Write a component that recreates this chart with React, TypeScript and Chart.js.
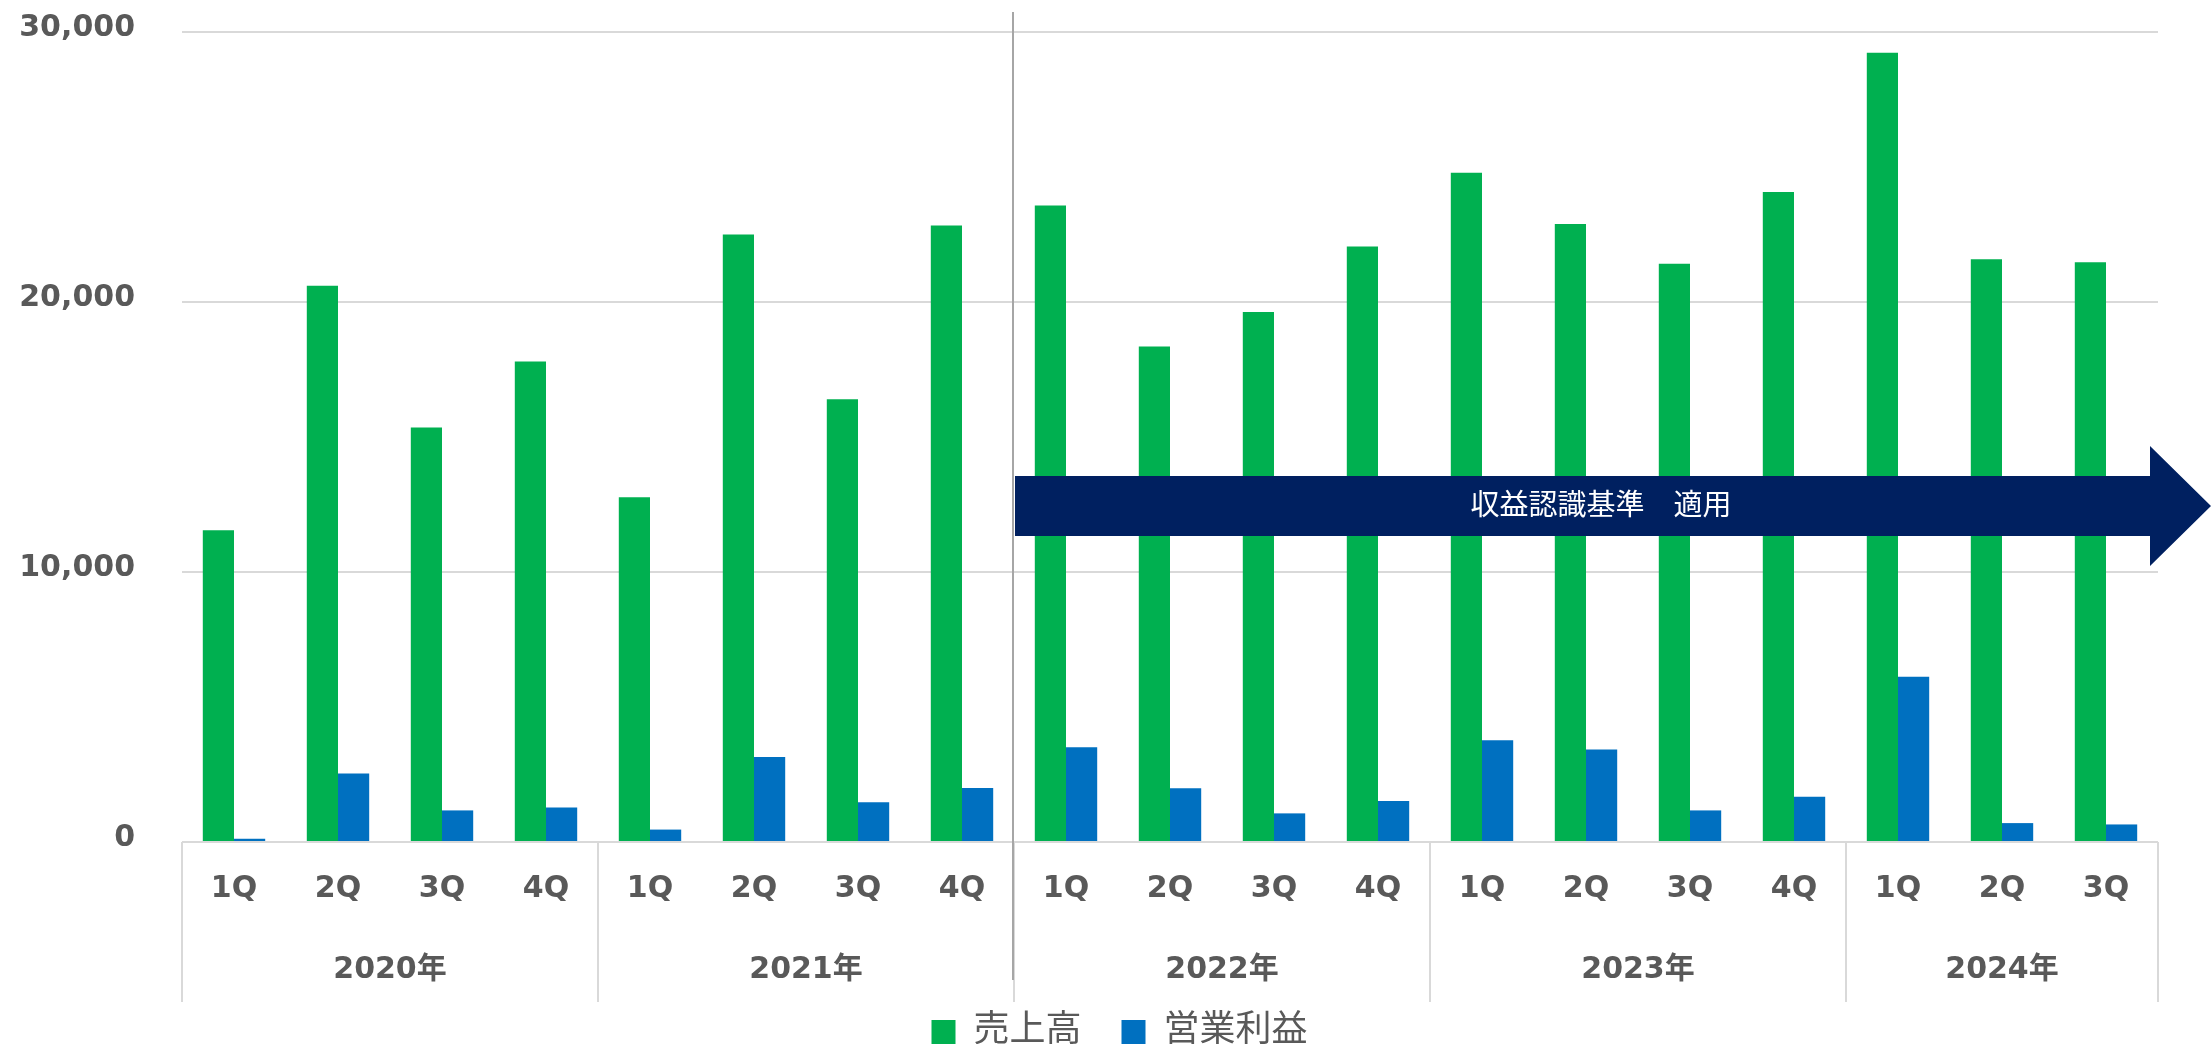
import React, { useEffect, useRef } from 'react';
import { Chart, registerables } from 'chart.js';

Chart.register(...registerables);

// ---- data ----
const quarters = ['1Q', '2Q', '3Q', '4Q', '1Q', '2Q', '3Q', '4Q', '1Q', '2Q', '3Q', '4Q', '1Q', '2Q', '3Q', '4Q', '1Q', '2Q', '3Q'];
const years = ['2020年', '2021年', '2022年', '2023年', '2024年'];
const quartersPerYear = [4, 4, 4, 4, 3];
const seriesNames = ['売上高', '営業利益'];
const sales = [11550, 20600, 15350, 17800, 12770, 22500, 16400, 22830, 23570, 18350, 19630, 22060, 24790, 22890, 21420, 24070, 29230, 21580, 21470];
const operatingProfit = [120, 2540, 1170, 1280, 460, 3150, 1470, 2000, 3510, 1990, 1060, 1520, 3770, 3430, 1170, 1680, 6120, 700, 650];
const yMax = 30000;
const yStep = 10000;
const arrowLabel = '収益認識基準　適用';
const arrowStartIndex = 8; // from 2022 1Q
const arrowBody = [11330, 13560];
const arrowHead = [10220, 14670];

const GREEN = '#00B050';
const BLUE = '#0070C0';
const NAVY = '#002060';
const TEXT = '#595959';
const GRID = '#D9D9D9';
const NUM_FONT = '"DejaVu Sans", "Noto Sans CJK JP", sans-serif';
const JP_FONT = '"Noto Sans CJK JP", sans-serif';

const overlayPlugin = {
  id: 'overlayPlugin',
  afterDatasetsDraw(chart: any) {
    const { ctx, chartArea } = chart;
    const x = chart.scales.x;
    const y = chart.scales.y;
    const half = (x.getPixelForValue(1) - x.getPixelForValue(0)) / 2;
    const boundary = (i: number) => x.getPixelForValue(i) - half;

    ctx.save();
    // year table lines
    const edges = [0];
    let acc = 0;
    quartersPerYear.forEach((n) => {
      acc += n;
      edges.push(acc);
    });
    const top = x.top;
    ctx.strokeStyle = GRID;
    ctx.lineWidth = 2;
    edges.forEach((e) => {
      const px = Math.round(boundary(e));
      ctx.beginPath();
      ctx.moveTo(px, top);
      ctx.lineTo(px, top + 160);
      ctx.stroke();
    });
    // year labels
    ctx.fillStyle = TEXT;
    ctx.font = 'bold 30px ' + NUM_FONT;
    ctx.textAlign = 'center';
    ctx.textBaseline = 'middle';
    years.forEach((yr, i) => {
      const cx = (boundary(edges[i]) + boundary(edges[i + 1])) / 2;
      ctx.fillText(yr, cx, top + 128);
    });

    // vertical marker line
    const mx = Math.round(boundary(arrowStartIndex)) - 1;
    ctx.strokeStyle = '#A6A6A6';
    ctx.lineWidth = 2;
    ctx.beginPath();
    ctx.moveTo(mx, chartArea.top - 20);
    ctx.lineTo(mx, top + 138);
    ctx.stroke();

    // arrow
    const x0 = mx + 2;
    const bodyTop = y.getPixelForValue(arrowBody[1]);
    const bodyBot = y.getPixelForValue(arrowBody[0]);
    const headTop = y.getPixelForValue(arrowHead[1]);
    const headBot = y.getPixelForValue(arrowHead[0]);
    const bodyEnd = chartArea.right - 8;
    const tip = chart.width;
    const mid = (bodyTop + bodyBot) / 2;
    ctx.fillStyle = NAVY;
    ctx.beginPath();
    ctx.moveTo(x0, bodyTop);
    ctx.lineTo(bodyEnd, bodyTop);
    ctx.lineTo(bodyEnd, headTop);
    ctx.lineTo(tip, mid);
    ctx.lineTo(bodyEnd, headBot);
    ctx.lineTo(bodyEnd, bodyBot);
    ctx.lineTo(x0, bodyBot);
    ctx.closePath();
    ctx.fill();
    ctx.fillStyle = '#FFFFFF';
    ctx.font = '29px ' + JP_FONT;
    ctx.textAlign = 'center';
    ctx.textBaseline = 'middle';
    ctx.fillText(arrowLabel, (x0 + tip) / 2 - 12, mid - 2);

    // legend (from dataset labels / colours)
    const ds = chart.data.datasets;
    ctx.font = '36px ' + JP_FONT;
    const boxW = 24;
    const boxH = 26;
    const gapBoxText = 18;
    const spacing = 40;
    const widths = ds.map((d: any) => boxW + gapBoxText + ctx.measureText(d.label).width);
    const total = widths.reduce((a: number, b: number) => a + b, 0) + spacing * (ds.length - 1);
    let lx = chart.width / 2 + 14 - total / 2;
    const ly = 1027;
    ctx.textAlign = 'left';
    ctx.textBaseline = 'middle';
    ds.forEach((d: any, i: number) => {
      ctx.fillStyle = d.backgroundColor;
      ctx.fillRect(lx, ly - 7, boxW, boxH);
      ctx.fillStyle = TEXT;
      ctx.fillText(d.label, lx + boxW + gapBoxText, ly);
      lx += widths[i] + spacing;
    });
    ctx.restore();
  },
};

export default function App() {
  const canvasRef = useRef<HTMLCanvasElement | null>(null);

  useEffect(() => {
    const canvas = canvasRef.current;
    if (!canvas) return;
    const chart = new Chart(canvas, {
      type: 'bar',
      data: {
        labels: quarters,
        datasets: [
          { label: seriesNames[0], data: sales, backgroundColor: GREEN, borderWidth: 0 },
          { label: seriesNames[1], data: operatingProfit, backgroundColor: BLUE, borderWidth: 0 },
        ],
      },
      options: {
        responsive: false,
        animation: false,
        devicePixelRatio: 1,
        datasets: { bar: { categoryPercentage: 0.6, barPercentage: 1.0 } },
        layout: { padding: { top: 32, left: 0, right: 53, bottom: 0 } },
        plugins: {
          tooltip: { enabled: false },
          legend: { display: false },
        },
        scales: {
          x: {
            grid: { display: false, drawTicks: false },
            border: { display: false },
            ticks: {
              font: { family: NUM_FONT, size: 30, weight: 'bold' },
              color: TEXT,
              maxRotation: 0,
              autoSkip: false,
              padding: 29,
            },
            afterFit: (scale: any) => {
              scale.height = 202;
              scale.paddingLeft = 0;
              scale.paddingRight = 0;
            },
          },
          y: {
            min: 0,
            max: yMax,
            grid: { color: GRID, lineWidth: 2, drawTicks: false },
            border: { display: false },
            ticks: {
              stepSize: yStep,
              font: { family: NUM_FONT, size: 30, weight: 'bold' },
              color: TEXT,
              padding: 47,
              labelOffset: -4,
              callback: (v: any) => Number(v).toLocaleString('en-US'),
            },
            afterFit: (scale: any) => {
              scale.width = 182;
              scale.paddingTop = 0;
              scale.paddingBottom = 0;
            },
          },
        },
      },
      plugins: [overlayPlugin],
    });
    return () => chart.destroy();
  }, []);

  return (
    <div style={{ position: 'absolute', left: 0, top: 0, width: 2211, height: 1044, background: '#fff' }}>
      <canvas ref={canvasRef} width={2211} height={1044} style={{ display: 'block' }} />
    </div>
  );
}
